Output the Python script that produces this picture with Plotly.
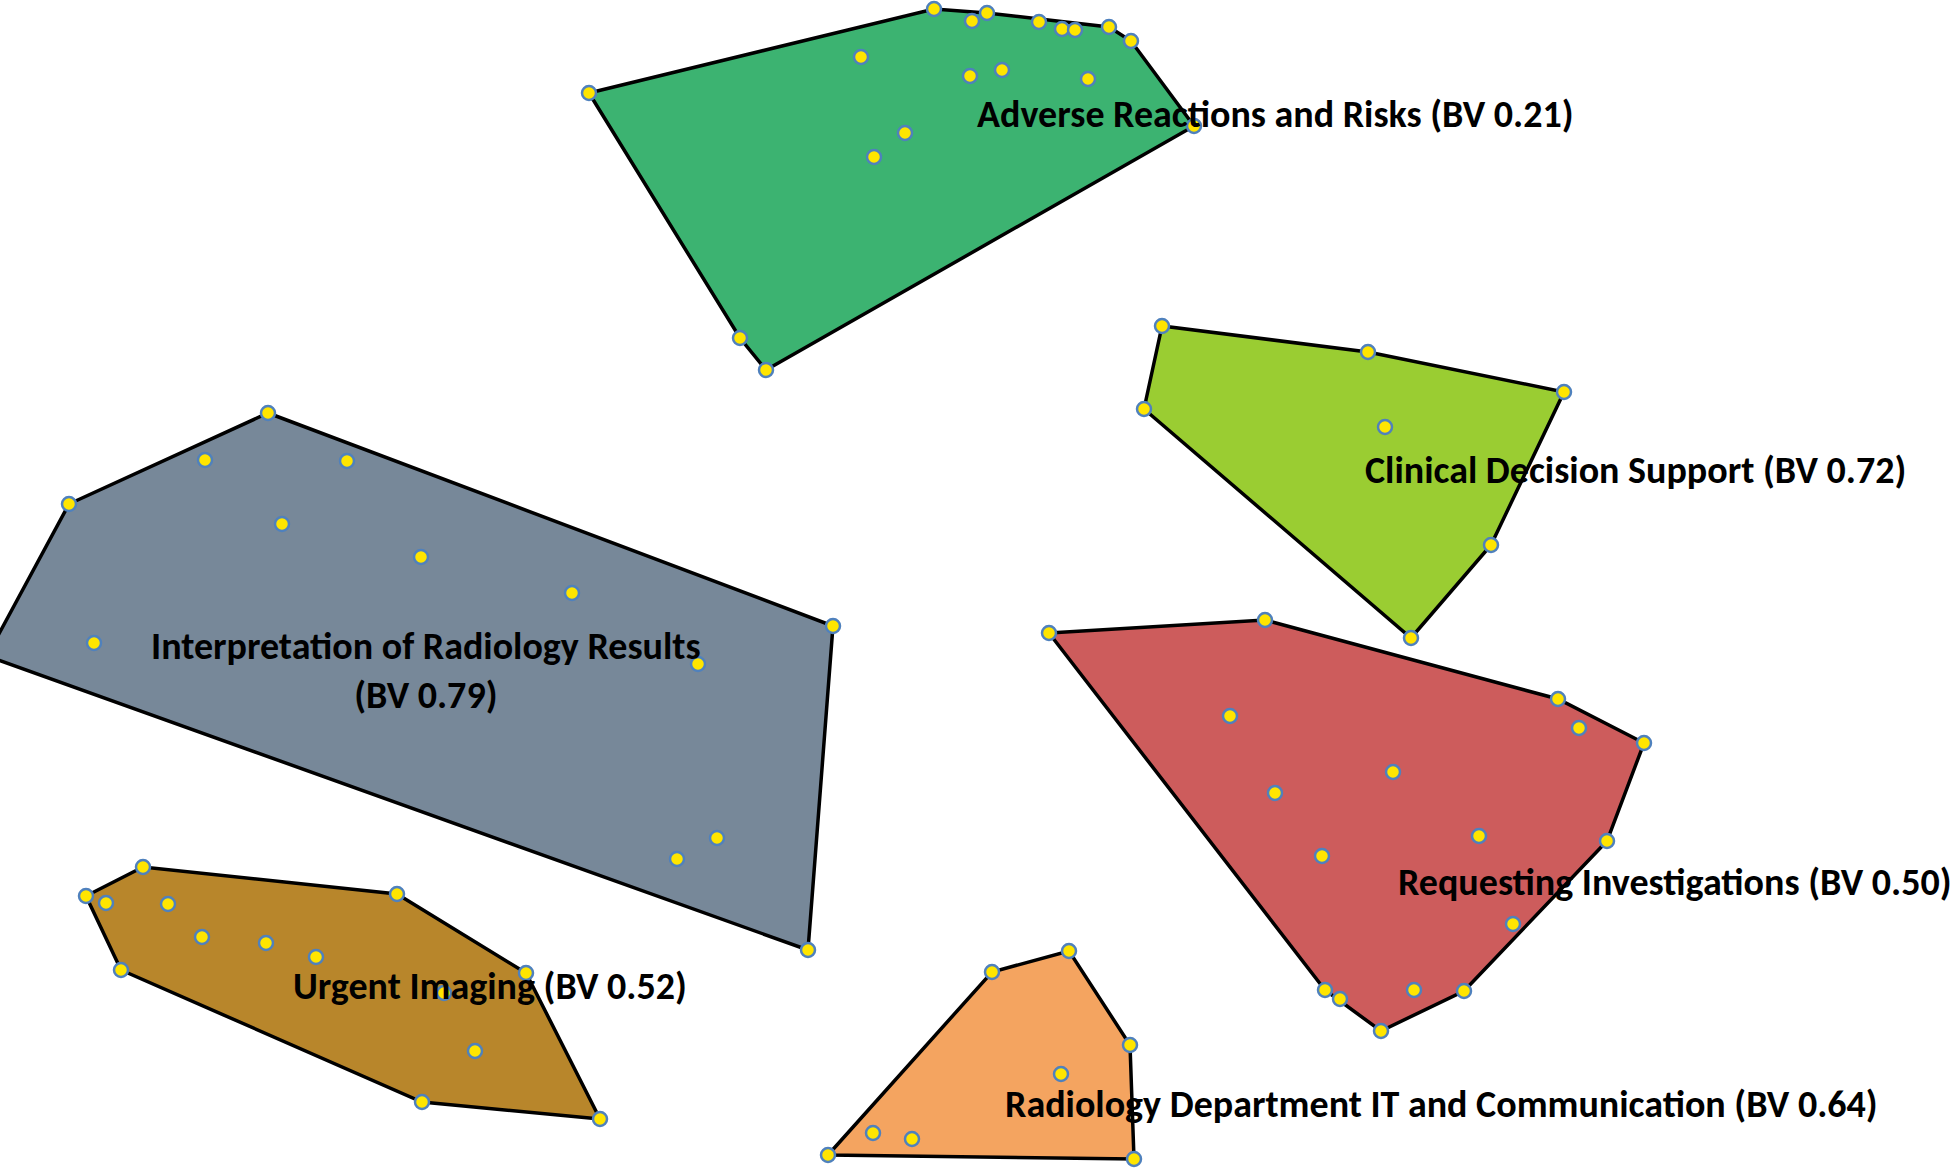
import plotly.graph_objects as go

# Cluster map coordinates (arbitrary map units, y grows downward)
adverse_x = [589, 934, 972, 987, 1039, 1062, 1075, 1109, 1131, 861, 970, 1002, 1088, 905, 874, 1194, 740, 766]
adverse_y = [93, 9, 21, 13, 22, 29, 30, 27, 41, 57, 76, 70, 79, 133, 157, 126, 338, 370]

clinical_x = [1162, 1368, 1564, 1144, 1385, 1491, 1411]
clinical_y = [326, 352, 392, 409, 427, 545, 638]

interp_x = [268, 205, 347, 69, 282, 421, 572, 833, 94, 698, 717, 677, 808, -13]
interp_y = [413, 460, 461, 504, 524, 557, 593, 626, 643, 664, 838, 859, 950, 656]

urgent_x = [143, 86, 106, 168, 397, 202, 266, 316, 121, 526, 444, 475, 422, 600]
urgent_y = [867, 896, 903, 904, 894, 937, 943, 957, 970, 973, 993, 1051, 1102, 1119]

radiology_x = [1069, 992, 1130, 1061, 873, 912, 828, 1134]
radiology_y = [951, 972, 1045, 1074, 1133, 1139, 1155, 1159]

requesting_x = [1049, 1265, 1558, 1230, 1579, 1644, 1393, 1275, 1479, 1607, 1322, 1513, 1325, 1340, 1414, 1464, 1381]
requesting_y = [633, 620, 699, 716, 728, 743, 772, 793, 836, 841, 856, 924, 990, 999, 990, 991, 1031]

cluster_names = [
    "Adverse Reactions and Risks (BV 0.21)",
    "Clinical Decision Support (BV 0.72)",
    "Interpretation of Radiology Results<br>(BV 0.79)",
    "Urgent Imaging (BV 0.52)",
    "Radiology Department IT and Communication (BV 0.64)",
    "Requesting Investigations (BV 0.50)",
]
label_x = [1275, 1635, 426, 490, 1441, 1675]
label_y = [114, 470, 670, 986, 1104, 882]

clusters = [
    (adverse_x, adverse_y, "#3CB371"),
    (clinical_x, clinical_y, "#9ACD32"),
    (interp_x, interp_y, "#778899"),
    (urgent_x, urgent_y, "#B8862B"),
    (radiology_x, radiology_y, "#F4A460"),
    (requesting_x, requesting_y, "#CD5C5C"),
]


def convex_hull(xs, ys):
    pts = sorted(set(zip(xs, ys)))
    if len(pts) <= 2:
        return pts

    def cross(o, a, b):
        return (a[0] - o[0]) * (b[1] - o[1]) - (a[1] - o[1]) * (b[0] - o[0])

    lower = []
    for p in pts:
        while len(lower) >= 2 and cross(lower[-2], lower[-1], p) <= 0:
            lower.pop()
        lower.append(p)
    upper = []
    for p in reversed(pts):
        while len(upper) >= 2 and cross(upper[-2], upper[-1], p) <= 0:
            upper.pop()
        upper.append(p)
    return lower[:-1] + upper[:-1]


fig = go.Figure()

for xs, ys, color in clusters:
    hull = convex_hull(xs, ys)
    hx = [p[0] for p in hull] + [hull[0][0]]
    hy = [p[1] for p in hull] + [hull[0][1]]
    fig.add_trace(go.Scatter(
        x=hx, y=hy, mode="lines", fill="toself", fillcolor=color,
        line=dict(color="black", width=3.5), hoverinfo="skip", showlegend=False,
    ))

for xs, ys, color in clusters:
    fig.add_trace(go.Scatter(
        x=xs, y=ys, mode="markers",
        marker=dict(size=14, color="#FFE500", line=dict(color="#4F81BD", width=2.5)),
        showlegend=False,
    ))

for name, lx, ly in zip(cluster_names, label_x, label_y):
    fig.add_annotation(
        x=lx, y=ly, xref="x", yref="y", text="<b>" + name + "</b>",
        showarrow=False, xanchor="center", yanchor="middle",
        font=dict(family="Carlito, Liberation Sans Narrow, Open Sans, sans-serif", size=38, color="black"),
    )

fig.update_layout(
    width=1959, height=1170,
    margin=dict(l=0, r=0, t=0, b=0),
    paper_bgcolor="white", plot_bgcolor="white",
    xaxis=dict(range=[0, 1959], visible=False, showgrid=False, zeroline=False),
    yaxis=dict(range=[1170, 0], visible=False, showgrid=False, zeroline=False),
    showlegend=False,
)

fig.write_html("out.html", config={"displayModeBar": False},
               post_script="document.body.style.margin='0';")
